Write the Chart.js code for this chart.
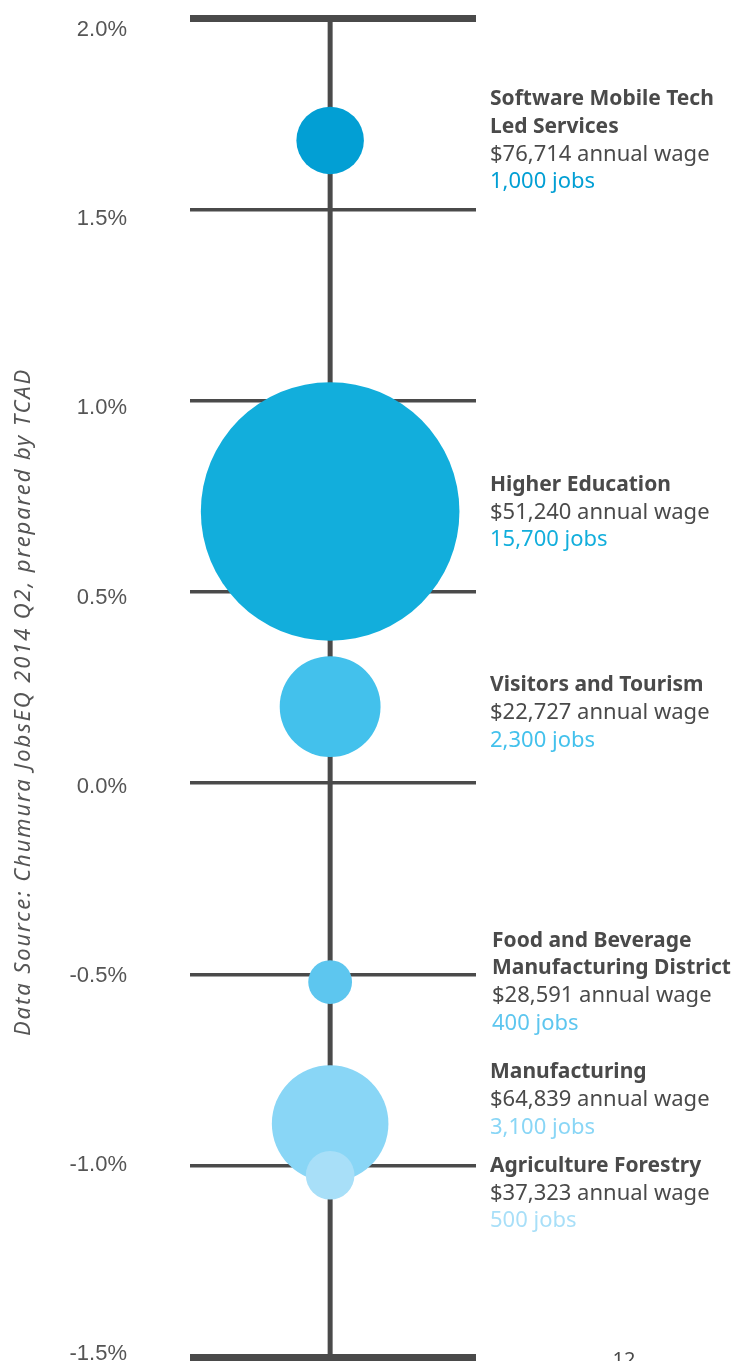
<!DOCTYPE html>
<html>
<head>
<meta charset="utf-8">
<title>Job growth by industry cluster</title>
<script src="https://cdn.jsdelivr.net/npm/chart.js@4"></script>
<style>
  html, body { margin: 0; padding: 0; background: #fff; }
  #wrap { position: relative; width: 734px; height: 1361px; overflow: hidden; }
</style>
</head>
<body>
<div id="wrap"><canvas id="growth-chart" width="734" height="1361"></canvas></div>
<script>
// Cluster data: annual growth (%), wage and employment
const sectors = [
  ['Software Mobile Tech', 'Led Services'],
  ['Higher Education'],
  ['Visitors and Tourism'],
  ['Food and Beverage', 'Manufacturing District'],
  ['Manufacturing'],
  ['Agriculture Forestry']
];
const growthPct = [1.68, 0.71, 0.2, -0.52, -0.89, -1.025];
const annualWage = [76714, 51240, 22727, 28591, 64839, 37323];
const jobs = [1000, 15700, 2300, 400, 3100, 500];
const yTicks = [-1.5, -1.0, -0.5, 0.0, 0.5, 1.0, 1.5, 2.0];
const sourceNote = 'Data Source: Chumura JobsEQ 2014 Q2, prepared by TCAD';
const pageNumber = '12';

const bubbleColors = ['#029fd4', '#12aedc', '#43c1ec', '#5dc6ef', '#89d6f6', '#a8dff8'];
// vertical nudges for the text blocks so neighbouring labels don't collide
const labelNudge = [0, 1, 6, 0, -24, 18];

const INK = '#4a4a4a';
const LABEL_FONT = '"Noto Sans", Lato, sans-serif';
const LINE_H = 27.7;

// bubble area follows job count
const radiusFor = n => 1.02 * Math.sqrt(n) + 1.5;

const fmt = n => n.toLocaleString('en-US');

const spinePlugin = {
  id: 'spine',
  beforeDatasetsDraw(chart) {
    const { ctx, chartArea, scales } = chart;
    const x = scales.x.getPixelForValue(0);
    ctx.save();
    ctx.strokeStyle = INK;
    ctx.lineWidth = 5;
    ctx.beginPath();
    ctx.moveTo(x, chartArea.top);
    ctx.lineTo(x, chartArea.bottom);
    ctx.stroke();
    ctx.restore();
  }
};

const labelPlugin = {
  id: 'clusterLabels',
  afterDatasetsDraw(chart) {
    const { ctx, chartArea } = chart;
    const meta = chart.getDatasetMeta(0);
    const x0 = chartArea.right + 14;
    ctx.save();
    ctx.textBaseline = 'middle';
    ctx.textAlign = 'left';
    meta.data.forEach((pt, i) => {
      const lines = sectors[i].length + 2;
      let y = pt.y + labelNudge[i] - (lines - 1) * LINE_H / 2;
      const x = i === 3 ? x0 + 2 : x0;
      ctx.fillStyle = INK;
      ctx.font = `bold 21px ${LABEL_FONT}`;
      sectors[i].forEach(t => { ctx.fillText(t, x, y); y += LINE_H; });
      ctx.font = `22px ${LABEL_FONT}`;
      ctx.fillText(`$${fmt(annualWage[i])} annual wage`, x, y);
      y += LINE_H;
      ctx.fillStyle = bubbleColors[i];
      ctx.fillText(`${fmt(jobs[i])} jobs`, x, y);
    });

    // source note running up the left edge
    ctx.save();
    ctx.translate(24, 702);
    ctx.rotate(-Math.PI / 2);
    ctx.textAlign = 'center';
    ctx.textBaseline = 'middle';
    ctx.fillStyle = '#555';
    ctx.font = `italic 22px ${LABEL_FONT}`;
    ctx.letterSpacing = '1.9px';
    ctx.fillText(sourceNote, 0, 0);
    ctx.restore();

    ctx.fillStyle = INK;
    ctx.font = `20px ${LABEL_FONT}`;
    ctx.textAlign = 'center';
    ctx.textBaseline = 'top';
    ctx.fillText(pageNumber, 624, 1350);
    ctx.restore();
  }
};

new Chart(document.getElementById('growth-chart'), {
  type: 'bubble',
  data: {
    datasets: [{
      data: growthPct.map((g, i) => ({ x: 0, y: g, r: radiusFor(jobs[i]) })),
      backgroundColor: bubbleColors,
      borderWidth: 0,
      hoverRadius: 0
    }]
  },
  options: {
    responsive: false,
    animation: false,
    events: [],
    layout: { autoPadding: false, padding: { top: 18, right: 258, bottom: 4, left: 0 } },
    plugins: { legend: { display: false }, tooltip: { enabled: false } },
    scales: {
      x: {
        display: false,
        min: -0.98,
        max: 1.02
      },
      // value axis: carries the horizontal rules only
      y: {
        position: 'left',
        min: -1.5,
        max: 2.0,
        afterBuildTicks: scale => { scale.ticks = yTicks.map(v => ({ value: v })); },
        afterFit: scale => {
          scale.width = 0;
          scale.paddingTop = 0;
          scale.paddingBottom = 0;
        },
        border: { display: false },
        grid: {
          drawTicks: false,
          tickLength: 0,
          color: INK,
          lineWidth: c => (c.tick && (c.tick.value === 2 || c.tick.value === -1.5)) ? 7 : 3.5
        },
        ticks: { display: false }
      },
      // label column, set slightly inside the rule span
      yLabels: {
        position: 'left',
        min: -1.508,
        max: 2.032,
        afterBuildTicks: scale => { scale.ticks = yTicks.map(v => ({ value: v })); },
        afterFit: scale => {
          scale.width = 190;
          scale.paddingTop = 0;
          scale.paddingBottom = 0;
        },
        border: { display: false },
        grid: { display: false, drawTicks: false },
        ticks: {
          padding: 63,
          color: '#555',
          font: { family: '"Liberation Sans", Arial, sans-serif', size: 22 },
          callback: v => v.toFixed(1) + '%'
        }
      }
    }
  },
  plugins: [spinePlugin, labelPlugin]
});
</script>
</body>
</html>
